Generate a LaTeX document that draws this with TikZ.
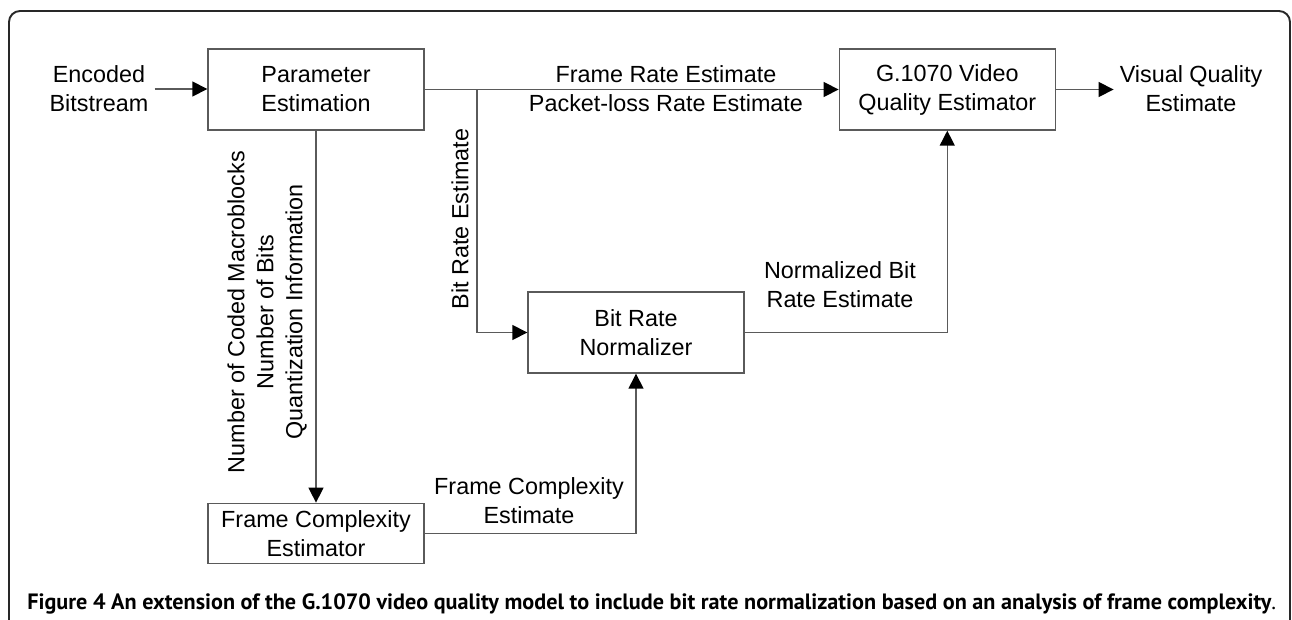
\documentclass[tikz,border=0pt]{standalone}
\usepackage{graphicx}
\usepackage{fontspec}
\setmainfont{Liberation Sans}
\newfontfamily\capfont{PT Sans}
\usetikzlibrary{arrows.meta, positioning}
\definecolor{linegray}{RGB}{90,90,90}
\definecolor{framegray}{RGB}{40,40,40}

\begin{document}
\begin{tikzpicture}[x=0.02cm, y=-0.02cm, font=\fontsize{13.3}{16.5}\selectfont]
\tikzstyle{block} = [rectangle, draw=linegray, line width=0.8pt, minimum width=4.32cm, minimum height=1.62cm, align=center, inner sep=2pt]
\tikzstyle{flow} = [draw=linegray, line width=0.8pt, -{Triangle[length=0.3cm, width=0.3cm, color=black]}]
\tikzstyle{plain} = [draw=linegray, line width=0.8pt]
\tikzstyle{lbl} = [align=center]

% page and outer frame
\useasboundingbox (0,0) rectangle (1292,619);
\draw[framegray, line width=1.1pt, rounded corners=0.22cm] (9,630) -- (9,11) -- (1290,11) -- (1290,630);

% blocks
\node (param) [block] at (316,89.5) {Parameter\\Estimation};
\node (vqe) [block, right=8.28cm of param] {G.1070 Video\\Quality Estimator};
\node (brn) [block] at (636,332.5) {Bit Rate\\Normalizer};
\node (fce) [block, minimum height=1.2cm, below=7.44cm of param] {Frame Complexity\\Estimator};

% input and output
\node (bitstream) [lbl] at (99,89) {Encoded\\Bitstream};
\node (quality) [lbl] at (1191,89) {Visual Quality\\Estimate};
\coordinate (split) at (477,89.5);

% connections
\draw[flow] (bitstream.east) -- (bitstream.east -| param.west);
\draw[flow] (param) -- (vqe);
\draw[flow] (split) |- (brn);
\draw[flow] (param) -- (fce);
\draw[flow] (fce) -| (brn);
\draw[flow] (brn) -| (vqe);
\draw[flow] (vqe.east) -- (vqe.east -| quality.west);

% labels on the connections
\node (ratelbl) [lbl] at (666,88.5) {Frame Rate Estimate\\Packet-loss Rate Estimate};
\node (bitlbl) [lbl, rotate=90] at (460,219) {Bit Rate Estimate};
\node (paramlbl) [lbl, rotate=90] at (267,312) {Number of Coded Macroblocks\\Number of Bits\\Quantization Information};
\node (normlbl) [lbl] at (840,285) {Normalized Bit\\Rate Estimate};
\node (cplxlbl) [lbl] at (529,500.5) {Frame Complexity\\Estimate};

% caption
\node (caption) [anchor=base west, inner sep=0pt] at (27,609) {\resizebox{24.98cm}{!}{\capfont\bfseries Figure 4 An extension of the G.1070 video quality model to include bit rate normalization based on an analysis of frame complexity\mdseries.}};
\end{tikzpicture}
\end{document}
